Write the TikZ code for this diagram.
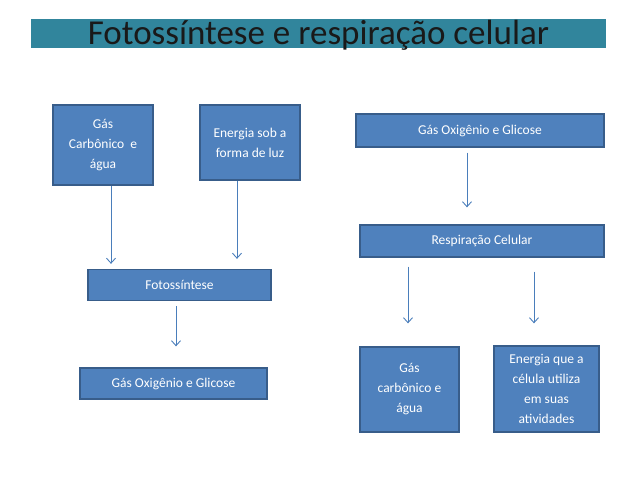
\documentclass[tikz,border=0pt]{standalone}
\usepackage{fontspec}
\setmainfont{Carlito}
\usetikzlibrary{arrows.meta}
\definecolor{boxfill}{HTML}{4F81BD}
\definecolor{boxline}{HTML}{385D8A}
\definecolor{titlebar}{HTML}{31859C}
\definecolor{arrowcol}{HTML}{4A7EBB}
\begin{document}
\begin{tikzpicture}[x=1pt,y=-1pt,
  box/.style={rectangle, draw=boxline, fill=boxfill, line width=1.3pt, text=white,
    font=\fontsize{13.5}{20}\selectfont, align=center, inner sep=0pt},
  arr/.style={draw=arrowcol, line width=0.9pt, -{Straight Barb[length=5pt,width=9pt]}},
  titlebox/.style={rectangle, fill=titlebar, inner sep=0pt, text=black!90,
    font=\fontsize{35}{36}\selectfont}
]
\useasboundingbox[fill=white] (0,0) rectangle (638,479);

\node[titlebox, minimum width=575pt, minimum height=29pt] (title) at (318.5,33.5) {\raisebox{-11pt}[0pt][0pt]{Fotossíntese e respiração celular}};

\node[box, minimum width=100pt, minimum height=80pt] (A) at (103,145) {Gás\\Carbônico\ \ e\\água};
\node[box, minimum width=100pt, minimum height=75pt] (B) at (250,142.5) {Energia sob a\\forma de luz};
\node[box, minimum width=248pt, minimum height=33pt] (C) at (480,130.5) {Gás Oxigênio e Glicose};
\node[box, minimum width=244pt, minimum height=32pt] (D) at (482,241) {Respiração Celular};
\node[box, minimum width=183pt, minimum height=31pt] (E) at (179.5,285) {Fotossíntese};
\node[box, minimum width=187pt, minimum height=31pt] (F) at (173.5,383.5) {Gás Oxigênio e Glicose};
\node[box, minimum width=99pt, minimum height=85pt] (G) at (409.5,389.5) {Gás\\carbônico e\\água};
\node[box, minimum width=105pt, minimum height=86pt] (H) at (546.5,389) {Energia que a\\célula utiliza\\em suas\\atividades};

\draw[arr, shorten >=5pt] (A.south -| 111,0) -- (E.north -| 111,0);
\draw[arr, shorten >=10pt] (B.south -| 237,0) -- (E.north -| 237,0);
\draw[arr, shorten <=5pt, shorten >=17pt] (C.south -| 467,0) -- (D.north -| 467,0);
\draw[arr, shorten <=5pt, shorten >=21pt] (E.south -| 176,0) -- (F.north -| 176,0);
\draw[arr, shorten <=9pt, shorten >=23pt] (D.south -| 408,0) -- (G.north -| 408,0);
\draw[arr, shorten <=14pt, shorten >=22pt] (D.south -| 534,0) -- (H.north -| 534,0);
\end{tikzpicture}
\end{document}
